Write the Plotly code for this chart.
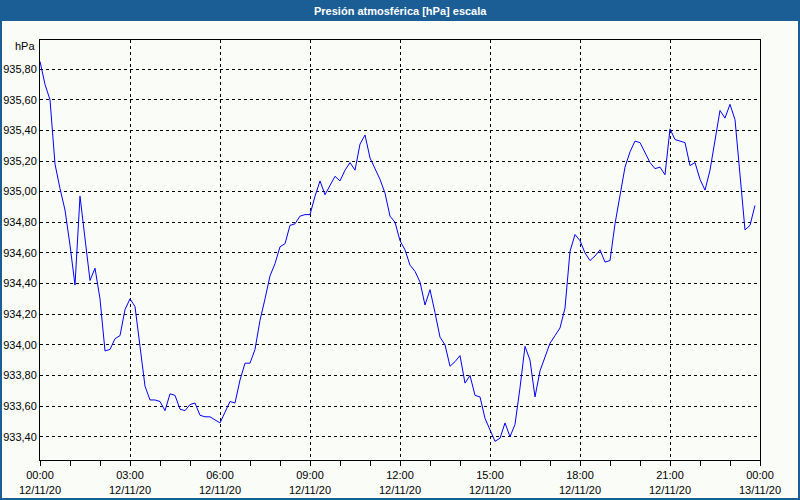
import pandas as pd
import plotly.graph_objects as go

# Sample times: every 10 minutes on 12/11/20
times = pd.date_range("2020-11-12 00:00", periods=144, freq="10min")

pressure_hpa = [
    935.85, 935.70, 935.60, 935.18, 935.02, 934.88, 934.65, 934.39, 934.97, 934.70,
    934.42, 934.50, 934.30, 933.96, 933.97, 934.04, 934.06, 934.23, 934.30, 934.25,
    934.00, 933.73, 933.64, 933.64, 933.63, 933.57, 933.68, 933.67, 933.58, 933.57,
    933.61, 933.62, 933.54, 933.53, 933.53, 933.51, 933.49, 933.56, 933.63, 933.62,
    933.77, 933.88, 933.88, 933.97, 934.16, 934.30, 934.45, 934.53, 934.64, 934.66,
    934.78, 934.79, 934.84, 934.85, 934.85, 934.97, 935.07, 934.98, 935.04, 935.10,
    935.07, 935.14, 935.19, 935.14, 935.31, 935.37, 935.22, 935.15, 935.08, 934.99,
    934.84, 934.80, 934.68, 934.62, 934.52, 934.48, 934.41, 934.26, 934.36, 934.21,
    934.05, 934.00, 933.86, 933.89, 933.93, 933.75, 933.80, 933.67, 933.66, 933.52,
    933.45, 933.37, 933.39, 933.49, 933.40, 933.48, 933.72, 933.99, 933.90, 933.66,
    933.83, 933.92, 934.01, 934.06, 934.11, 934.24, 934.61, 934.72, 934.68, 934.60,
    934.55, 934.58, 934.62, 934.54, 934.55, 934.79, 934.97, 935.16, 935.26, 935.33,
    935.32, 935.25, 935.19, 935.15, 935.16, 935.11, 935.41, 935.34, 935.33, 935.32,
    935.17, 935.19, 935.08, 935.01, 935.14, 935.34, 935.53, 935.48, 935.57, 935.47,
    935.10, 934.75, 934.78, 934.91,
]

title_text = "Presión atmosférica [hPa] escala"
unit_text = "hPa"

BLUE_BAR = "#1b5e96"
BG = "#fafcf8"
FONT = "Liberation Sans"

fig = go.Figure()
fig.add_trace(go.Scatter(
    x=times, y=pressure_hpa, mode="lines",
    line=dict(color="#0000ff", width=1),
    hoverinfo="skip", showlegend=False,
))

W, H = 800, 500
ML, MR, MT, MB = 40, 40, 40, 40
PW, PH = W - ML - MR, H - MT - MB


def px_x(px):
    return (px - ML) / PW


def px_y(py):
    return (H - MB - py) / PH


shapes = [
    # title bar
    dict(type="rect", xref="paper", yref="paper",
         x0=px_x(0), x1=px_x(W), y0=px_y(21), y1=px_y(0),
         fillcolor=BLUE_BAR, line=dict(width=0), layer="below"),
    # window borders
    dict(type="rect", xref="paper", yref="paper",
         x0=px_x(0), x1=px_x(2), y0=px_y(H), y1=px_y(21),
         fillcolor=BLUE_BAR, line=dict(width=0), layer="below"),
    dict(type="rect", xref="paper", yref="paper",
         x0=px_x(W - 2), x1=px_x(W), y0=px_y(H), y1=px_y(21),
         fillcolor=BLUE_BAR, line=dict(width=0), layer="below"),
    dict(type="rect", xref="paper", yref="paper",
         x0=px_x(0), x1=px_x(W), y0=px_y(H), y1=px_y(H - 2),
         fillcolor=BLUE_BAR, line=dict(width=0), layer="below"),
]

fig.update_layout(
    width=W, height=H,
    margin=dict(l=ML, r=MR, t=MT, b=MB, pad=0, autoexpand=False),
    paper_bgcolor=BG, plot_bgcolor=BG,
    separators=",.",
    font=dict(family=FONT, size=11, color="#000000"),
    shapes=shapes,
    annotations=[
        dict(text="<b>" + title_text + "</b>", xref="paper", yref="paper",
             x=px_x(400), y=px_y(10.5), xanchor="center", yanchor="middle",
             showarrow=False, font=dict(family=FONT, size=11, color="#ffffff")),
        dict(text=unit_text, xref="paper", yref="paper",
             x=px_x(37), y=px_y(46), xanchor="right", yanchor="middle",
             showarrow=False, font=dict(family=FONT, size=11, color="#000000")),
    ],
)

fig.update_xaxes(
    type="date", automargin=False,
    range=[pd.Timestamp("2020-11-12 00:00"), pd.Timestamp("2020-11-13 00:00")],
    tick0=pd.Timestamp("2020-11-12 00:00"), dtick=3 * 3600 * 1000,
    tickformat="%H:%M<br>%d/%m/%y",
    ticks="outside", ticklen=5, tickcolor="#000000", tickwidth=1,
    minor=dict(dtick=3600 * 1000, ticks="outside", ticklen=5,
               tickcolor="#000000", tickwidth=1, showgrid=False),
    showgrid=True, gridcolor="#000000", gridwidth=1, griddash="3px,3px",
    showline=True, linecolor="#000000", linewidth=1, mirror=True,
    zeroline=False, fixedrange=True,
    tickfont=dict(family=FONT, size=11, color="#000000"),
)

fig.update_yaxes(
    automargin=False,
    range=[933.248, 935.99],
    tick0=933.4, dtick=0.2, tickformat=".2f",
    ticks="outside", ticklen=0, ticklabelstandoff=0,
    showgrid=True, gridcolor="#000000", gridwidth=1, griddash="3px,3px",
    showline=True, linecolor="#000000", linewidth=1, mirror=True,
    zeroline=False, fixedrange=True,
    tickfont=dict(family=FONT, size=11, color="#000000"),
)

fig.write_html("out.html")
